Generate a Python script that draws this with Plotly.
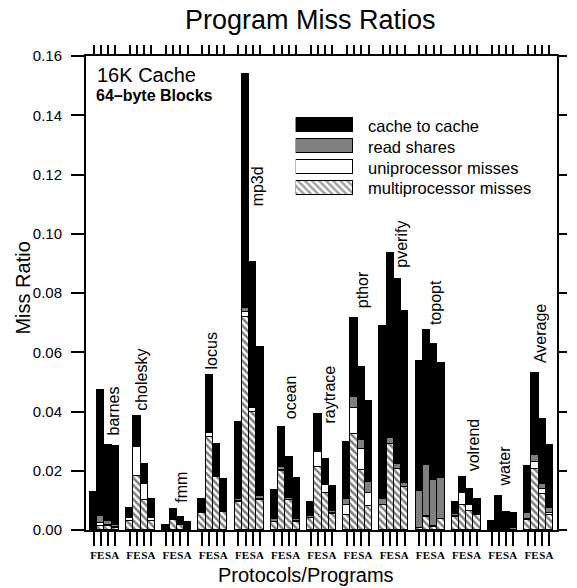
import plotly.graph_objects as go

# ---------------- data ----------------
programs = ["barnes", "cholesky", "fmm", "locus", "mp3d", "ocean", "raytrace",
            "pthor", "pverify", "topopt", "volrend", "water", "Average"]
protocols = ["F", "E", "S", "A"]

# values per program, in protocol order F, E, S, A
multiprocessor_misses = [
    [0.0002, 0.0015, 0.0013, 0.0008],
    [0.0031, 0.0183, 0.0102, 0.0031],
    [0.0002, 0.0034, 0.0018, 0.0002],
    [0.0057, 0.0315, 0.0178, 0.0060],
    [0.0096, 0.0718, 0.0397, 0.0101],
    [0.0026, 0.0200, 0.0101, 0.0028],
    [0.0040, 0.0214, 0.0124, 0.0054],
    [0.0051, 0.0324, 0.0203, 0.0080],
    [0.0084, 0.0289, 0.0205, 0.0144],
    [0.0006, 0.0045, 0.0011, 0.0036],
    [0.0045, 0.0084, 0.0065, 0.0051],
    [0.0001, 0.0002, 0.0001, 0.0001],
    [0.0034, 0.0205, 0.0120, 0.0051],
]
uniprocessor_misses = [
    [0.0001, 0.0008, 0.0004, 0.0002],
    [0.0009, 0.0096, 0.0053, 0.0011],
    [0.0001, 0.0003, 0.0003, 0.0001],
    [0.0004, 0.0011, 0.0003, 0.0003],
    [0.0002, 0.0019, 0.0015, 0.0003],
    [0.0001, 0.0002, 0.0001, 0.0001],
    [0.0002, 0.0048, 0.0029, 0.0003],
    [0.0034, 0.0087, 0.0071, 0.0044],
    [0.0002, 0.0003, 0.0002, 0.0002],
    [0.0001, 0.0003, 0.0001, 0.0001],
    [0.0002, 0.0042, 0.0021, 0.0002],
    [0.0000, 0.0000, 0.0000, 0.0000],
    [0.0004, 0.0026, 0.0017, 0.0008],
]
read_shares = [
    [0.0001, 0.0025, 0.0012, 0.0008],
    [0.0002, 0.0003, 0.0003, 0.0003],
    [0.0000, 0.0001, 0.0001, 0.0000],
    [0.0002, 0.0003, 0.0002, 0.0002],
    [0.0005, 0.0012, 0.0003, 0.0011],
    [0.0009, 0.0011, 0.0007, 0.0007],
    [0.0004, 0.0003, 0.0003, 0.0006],
    [0.0020, 0.0037, 0.0030, 0.0039],
    [0.0017, 0.0020, 0.0015, 0.0011],
    [0.0126, 0.0172, 0.0158, 0.0138],
    [0.0008, 0.0003, 0.0003, 0.0006],
    [0.0003, 0.0005, 0.0004, 0.0005],
    [0.0018, 0.0022, 0.0017, 0.0014],
]
cache_to_cache = [
    [0.0125, 0.0425, 0.0259, 0.0264],
    [0.0032, 0.0104, 0.0065, 0.0059],
    [0.0014, 0.0033, 0.0021, 0.0025],
    [0.0042, 0.0195, 0.0107, 0.0107],
    [0.0260, 0.0791, 0.0491, 0.0502],
    [0.0099, 0.0134, 0.0136, 0.0140],
    [0.0047, 0.0127, 0.0085, 0.0087],
    [0.0193, 0.0268, 0.0245, 0.0274],
    [0.0586, 0.0622, 0.0624, 0.0582],
    [0.0439, 0.0455, 0.0457, 0.0388],
    [0.0038, 0.0051, 0.0048, 0.0046],
    [0.0026, 0.0108, 0.0057, 0.0053],
    [0.0161, 0.0278, 0.0220, 0.0214],
]
y_ticks = [0.00, 0.02, 0.04, 0.06, 0.08, 0.10, 0.12, 0.14, 0.16]
legend_labels = ["multiprocessor misses", "uniprocessor misses", "read shares", "cache to cache"]

# ---------------- layout helpers (positions / styles) ----------------
W, H = 577, 588
ML, MR, MT, MB = 86, 12, 56, 58
PW, PH = W - ML - MR, H - MT - MB
GROUP = 5  # 4 bars + 1 gap


def px_x(x):
    return (x - ML) / PW


def px_y(y):
    return (H - MB - y) / PH


# label anchor positions (data x, data y of bottom of rotated text)
label_pos = [(2.69, 0.0314), (6.63, 0.0394), (12.24, 0.0084), (16.25, 0.0534),
             (22.6, 0.1086), (27.24, 0.0366), (32.6, 0.0354), (37.2, 0.0743),
             (42.53, 0.0878), (47.16, 0.0686), (52.5, 0.0193), (56.83, 0.0141),
             (61.77, 0.0557)]

xpos = [g * GROUP + i for g in range(len(programs)) for i in range(len(protocols))]
xtext = [p for _ in programs for p in protocols]


def flat(a):
    return [v for row in a for v in row]


FONT = "Liberation Sans, Arial, Helvetica, sans-serif"
line = dict(color="black", width=1)
hatch = dict(fgcolor="black", bgcolor="white", size=5, solidity=0.5)
fig = go.Figure()

series = [
    (multiprocessor_misses, dict(color="white", line=line, pattern=dict(shape="\\", **hatch))),
    (uniprocessor_misses, dict(color="white", line=line)),
    (read_shares, dict(color="#808080", line=line)),
    (cache_to_cache, dict(color="black", line=line)),
]
for (vals, mk), name in zip(series, legend_labels):
    fig.add_trace(go.Bar(x=xpos, y=flat(vals), width=1, marker=mk, name=name,
                         showlegend=False, hoverinfo="skip"))

# dummy trace to activate the top/right axes
fig.add_trace(go.Scatter(x=[None], y=[None], xaxis="x2", yaxis="y2", showlegend=False,
                         mode="markers", hoverinfo="skip"))

# legend swatches (drawn as bars on a hidden axis)
fig.add_trace(go.Bar(
    y=list(range(len(legend_labels))), x=[1] * len(legend_labels), orientation="h",
    width=0.67, xaxis="x3", yaxis="y3", showlegend=False, hoverinfo="skip",
    marker=dict(color=["white", "white", "#808080", "black"], line=line,
                pattern=dict(shape=["\\", "", "", ""], **hatch))))

xr = [-1.04, 64.04]
fig.update_layout(
    width=W, height=H, margin=dict(l=ML, r=MR, t=MT, b=MB),
    paper_bgcolor="white", plot_bgcolor="white", barmode="stack", bargap=0,
    font=dict(family=FONT, color="black"),
    xaxis=dict(range=xr, tickmode="array", tickvals=xpos, ticktext=xtext,
               ticks="outside", ticklen=14, tickwidth=2, tickcolor="black",
               showline=True, linewidth=2, linecolor="black", showgrid=False, zeroline=False,
               tickangle=0,
               tickfont=dict(family="Liberation Serif, Times New Roman, serif", size=11,
                             weight="bold")),
    xaxis2=dict(range=xr, overlaying="x", side="top", anchor="y", tickmode="array",
                tickvals=xpos, showticklabels=False, ticks="outside", ticklen=9,
                tickwidth=2, tickcolor="black", showline=True, linewidth=2,
                linecolor="black", showgrid=False, zeroline=False),
    yaxis=dict(range=[0, 0.16], tickmode="array", tickvals=y_ticks,
               ticktext=[f"{v:.2f}" for v in y_ticks], ticks="outside", ticklen=13,
               tickwidth=2, tickcolor="black", showline=True, linewidth=2,
               linecolor="black", showgrid=False, zeroline=False,
               ticklabelstandoff=6, tickfont=dict(size=15)),
    yaxis2=dict(range=[0, 0.16], overlaying="y", side="right", anchor="x",
                tickmode="array", tickvals=y_ticks, showticklabels=False,
                ticks="outside", ticklen=8, tickwidth=2, tickcolor="black",
                showline=True, linewidth=2, linecolor="black", showgrid=False,
                zeroline=False),
    xaxis3=dict(domain=[px_x(299.3), px_x(357.7)], range=[0, 1], anchor="y3",
                visible=False, fixedrange=True),
    yaxis3=dict(domain=[px_y(198.8), px_y(115.0)], range=[-0.5, 3.5], anchor="x3",
                visible=False, fixedrange=True),
)

ann = []
for name, (lx, ly) in zip(programs, label_pos):
    ann.append(dict(x=lx, y=ly, xref="x", yref="y", text=name, textangle=-90,
                    xanchor="center", yanchor="bottom", showarrow=False,
                    font=dict(size=16)))
legend_y = [188.3, 167.5, 146.7, 125.5]
for lab, ly in zip(legend_labels, legend_y):
    ann.append(dict(x=px_x(371.0), y=px_y(ly), xref="paper", yref="paper", text=lab,
                    xanchor="left", yanchor="middle", showarrow=False,
                    font=dict(size=16.5)))
ann += [
    dict(x=px_x(314), y=px_y(3), xref="paper", yref="paper", text="Program Miss Ratios",
         xanchor="center", yanchor="top", showarrow=False, font=dict(size=27)),
    dict(x=px_x(310), y=px_y(562), xref="paper", yref="paper", text="Protocols/Programs",
         xanchor="center", yanchor="top", showarrow=False, font=dict(size=20)),
    dict(x=px_x(21), y=px_y(288.5), xref="paper", yref="paper", text="Miss Ratio",
         textangle=-90, xanchor="center", yanchor="middle", showarrow=False,
         font=dict(size=20)),
    dict(x=px_x(95), y=px_y(62), xref="paper", yref="paper", text="16K Cache",
         xanchor="left", yanchor="top", showarrow=False, font=dict(size=20)),
    dict(x=px_x(94), y=px_y(85), xref="paper", yref="paper", text="<b>64–byte Blocks</b>",
         xanchor="left", yanchor="top", showarrow=False, font=dict(size=16)),
]
fig.update_layout(annotations=ann)

fig.write_html("out.html")
